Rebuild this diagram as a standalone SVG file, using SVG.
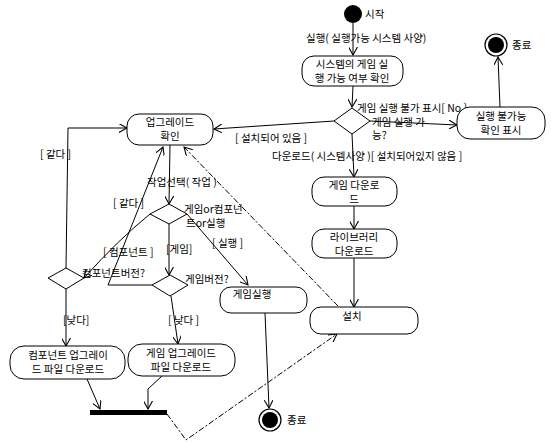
<svg xmlns="http://www.w3.org/2000/svg" width="551" height="445" viewBox="0 0 551 445">
<style>
text{font-family:"Noto Sans CJK KR","Noto Sans",sans-serif;font-size:10.5px;fill:#000}
.act{fill:#fff;stroke:#000;stroke-width:1}
.dec{fill:#fff;stroke:#000;stroke-width:1}
.c{fill:none;stroke:#000;stroke-width:1;marker-end:url(#arr)}
.d{stroke-dasharray:6 2 2 2}
.m{text-anchor:middle}
</style>
<defs>
<marker id="arr" viewBox="0 0 10 10" refX="9" refY="5" markerWidth="9" markerHeight="9" orient="auto" markerUnits="userSpaceOnUse">
<path d="M0,0 L9,5 L0,10" fill="none" stroke="#000" stroke-width="1.2"/>
</marker>
</defs>
<rect width="551" height="445" fill="#fff"/>

<g id="connectors">
<path class="c" d="M353,23 L353,55"/>
<path class="c" d="M353,86 L352,107"/>
<path class="c" d="M370,121 L457,125"/>
<path class="c" d="M500,107 L498,57"/>
<path class="c" d="M334,121 L214,129"/>
<path class="c" d="M352,134 L354,177"/>
<path class="c" d="M354,206 L354,229"/>
<path class="c" d="M354,258 L354,307"/>
<path class="c d" d="M338,306 L184,147"/>
<path class="c" d="M170,145 L169,204"/>
<path class="c" d="M66,268 L68,128 L127,128"/>
<path class="c" d="M152,285 L108,285 L163,147"/>
<path class="c" d="M150,214 Q118,240 84,278"/>
<path class="c" d="M169,224 L169,275"/>
<path class="c" d="M187,214 L248,285"/>
<path class="c" d="M265,313 L269,408"/>
<path class="c" d="M66,289 L66,346"/>
<path class="c" d="M171,296 L178,344"/>
<path class="c" d="M87,379 L100,409"/>
<path class="c" d="M162,376 L148,389 L148,409"/>
<path class="c d" d="M167,414 L186,440 L337,334"/>
</g>

<g id="start">
<circle cx="353" cy="14" r="9" fill="#000"/>
<text x="365" y="18">시작</text>
</g>
<text x="306" y="42">실행( 실행가능 시스템 사양)</text>

<g id="check">
<rect class="act" x="302" y="56" width="101" height="30" rx="12"/>
<text class="m" x="352" y="68">시스템의 게임 실</text>
<text class="m" x="352" y="82">행 가능 여부 확인</text>
</g>

<g id="dec-run">
<polygon class="dec" points="352,108 370,121 352,134 334,121"/>
<text x="372" y="126">게임 실행 가</text>
<text x="372" y="139">능?</text>
</g>
<text x="357" y="112">게임 실행 불가 표시[ No ]</text>

<g id="cannot">
<rect class="act" x="457" y="107" width="88" height="32" rx="13"/>
<text class="m" x="501" y="120">실행 불가능</text>
<text class="m" x="501" y="134">확인 표시</text>
</g>

<g id="end-top">
<circle cx="496" cy="45" r="11" fill="#fff" stroke="#000" stroke-width="1.2"/>
<circle cx="496" cy="45" r="8" fill="#000"/>
<text x="512" y="49">종료</text>
</g>

<text x="235" y="142">[ 설치되어 있음 ]</text>
<text x="272" y="160">다운로드( 시스템사양 )[ 설치되어있지 않음 ]</text>

<g id="download">
<rect class="act" x="312" y="177" width="85" height="29" rx="12"/>
<text class="m" x="354" y="189">게임 다운로</text>
<text class="m" x="354" y="203">드</text>
</g>

<g id="library">
<rect class="act" x="312" y="229" width="85" height="29" rx="12"/>
<text class="m" x="354" y="241">라이브러리</text>
<text class="m" x="354" y="255">다운로드</text>
</g>

<g id="install">
<rect class="act" x="310" y="307" width="108" height="27" rx="11"/>
<text class="m" x="352" y="320">설치</text>
</g>

<g id="upgrade-check">
<rect class="act" x="127" y="114" width="86" height="31" rx="12"/>
<text class="m" x="170" y="126">업그레이드</text>
<text class="m" x="170" y="140">확인</text>
</g>
<text x="147" y="186">작업선택( 작업 )</text>
<text x="40" y="158">[ 같다 ]</text>
<text x="113" y="207">[ 같다 ]</text>

<g id="dec-select">
<polygon class="dec" points="169,204 187,214 169,224 150,214"/>
<text x="184" y="213">게임or컴포넌</text>
<text x="186" y="227">트or실행</text>
</g>
<text x="103" y="256">[ 컴포넌트 ]</text>
<text x="166" y="253">[게임]</text>
<text x="212" y="247">[ 실행 ]</text>

<g id="dec-comp">
<polygon class="dec" points="66,268 84,278 66,289 48,278"/>
<text x="82" y="277">컴포넌트버전?</text>
</g>

<g id="dec-game">
<polygon class="dec" points="170,275 188,285 170,296 152,285"/>
<text x="185" y="283">게임버전?</text>
</g>

<g id="game-run">
<rect class="act" x="220" y="287" width="87" height="26" rx="11"/>
<text class="m" x="252" y="298">게임실행</text>
</g>

<text x="63" y="324">[낮다]</text>
<text x="168" y="324">[ 낮다 ]</text>

<g id="comp-upgrade">
<rect class="act" x="10" y="346" width="115" height="33" rx="14"/>
<text class="m" x="68" y="359">컴포넌트 업그레이</text>
<text class="m" x="68" y="373">드 파일 다운로드</text>
</g>

<g id="game-upgrade">
<rect class="act" x="128" y="344" width="107" height="32" rx="14"/>
<text class="m" x="181" y="357">게임 업그레이드</text>
<text class="m" x="181" y="371">파일 다운로드</text>
</g>

<g id="join">
<rect x="90" y="410" width="77" height="5" fill="#000"/>
</g>

<g id="end-bottom">
<circle cx="270" cy="420" r="11" fill="#fff" stroke="#000" stroke-width="1.2"/>
<circle cx="270" cy="420" r="8" fill="#000"/>
<text x="287" y="424">종료</text>
</g>
</svg>
